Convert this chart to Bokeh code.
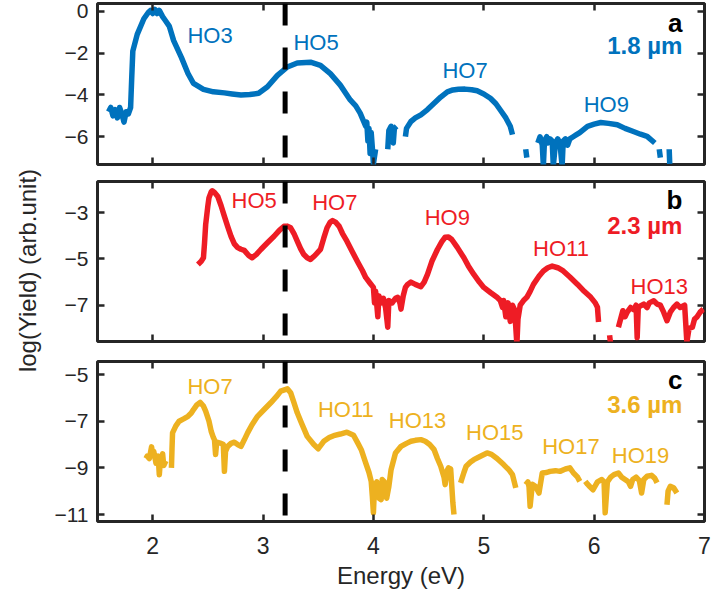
import numpy as np
from bokeh.plotting import figure
from bokeh.layouts import column, row
from bokeh.models import Range1d, LinearAxis, FixedTicker, Span, ColumnDataSource, Label
from bokeh.embed import file_html
from bokeh.resources import INLINE
from bokeh.core.properties import value

nan = float("nan")

# ---------------- data ----------------
# Panel a : 1.8 um
a_energy = [1.60, 1.62, 1.64, 1.66, 1.68, 1.70, 1.72, 1.74, 1.76, 1.78, 1.80, 1.81, 1.82, 1.86, 1.92,
            1.96, 1.98, 2.00, 2.02, 2.04, 2.06, 2.09, 2.11, 2.15, 2.19, 2.26, 2.32, 2.37, 2.46, 2.55,
            2.65, 2.72, 2.80, 2.88, 2.96, 3.04, 3.13, 3.22, 3.31, 3.43, 3.52, 3.61, 3.70, 3.79, 3.84,
            3.88, 3.93, 3.94, 3.95, 3.96, 3.97, 3.98, 3.99, 4.00, 4.02, nan,
            4.13, 4.14, 4.16, 4.18, 4.19, 4.21, nan,
            4.29, 4.30, 4.34, 4.38, 4.43, 4.49, 4.55, 4.61, 4.67, 4.72, 4.77, 4.83, 4.89, 4.94, 5.00,
            5.06, 5.11, 5.15, 5.20, 5.24, 5.26, nan,
            5.38, 5.39, nan,
            5.49, 5.51, 5.53, 5.54, 5.55, 5.57, 5.58, 5.60, 5.62, 5.63, 5.65, 5.67, 5.69, 5.71, 5.72,
            5.74, 5.76, 5.78, 5.81, 5.84, 5.87, 5.94, 6.00, 6.06, 6.13, 6.21, 6.28, 6.35, 6.42, 6.48,
            6.55, nan,
            6.59, 6.60, nan,
            6.68, 6.685]
a_yield = [-4.8, -4.6, -5.0, -4.7, -5.1, -4.6, -4.9, -5.3, -4.8, -4.9, -4.6, -3.2, -1.9, -1.1, -0.35,
           -0.05, 0.05, -0.1, 0.1, -0.1, 0.05, -0.25, -0.4, -0.7, -1.4, -2.2, -2.97, -3.45, -3.73, -3.85,
           -3.9, -3.95, -4.0, -3.98, -3.92, -3.61, -3.06, -2.66, -2.47, -2.43, -2.58, -2.98, -3.53, -4.24, -4.52,
           -4.87, -5.5, -5.3, -6.2, -5.6, -6.8, -5.8, -6.5, -7.3, -6.6, nan,
           -6.6, -5.7, -5.5, -6.3, -5.6, -5.5, nan,
           -6.0, -5.6, -5.27, -5.1, -4.95, -4.7, -4.4, -4.1, -3.85, -3.76, -3.73, -3.72, -3.75, -3.8, -3.95,
           -4.16, -4.42, -4.72, -5.1, -5.5, -5.9, nan,
           -6.6, -7.0, nan,
           -6.3, -6.0, -6.4, -7.4, -6.2, -6.0, -6.3, -6.1, -6.2, -7.4, -6.3, -6.1, -6.3, -7.4, -6.2,
           -6.1, -6.4, -6.1, -6.0, -5.9, -5.8, -5.5, -5.4, -5.32, -5.36, -5.43, -5.6, -5.74, -5.88, -5.98,
           -6.3, nan,
           -6.6, -7.0, nan,
           -6.6, -7.3]

# Panel b : 2.3 um
b_energy = [2.41, 2.44, 2.46, 2.47, 2.48, 2.50, 2.51, 2.53, 2.54, 2.56, 2.59, 2.62, 2.65, 2.68, 2.71,
            2.74, 2.77, 2.80, 2.83, 2.87, 2.90, 2.94, 2.98, 3.04, 3.10, 3.15, 3.19, 3.22, 3.25, 3.28,
            3.31, 3.34, 3.37, 3.40, 3.43, 3.47, 3.52, 3.55, 3.58, 3.61, 3.63, 3.66, 3.69, 3.72, 3.76,
            3.81, 3.86, 3.90, 3.93, 3.97, 4.00, 4.01, 4.02, 4.04, 4.05, 4.07, 4.09, 4.11, 4.13, 4.14,
            4.17, 4.20, 4.22, 4.24, 4.25, 4.27, 4.29, 4.31, 4.34, 4.38, 4.43, 4.46, 4.49, 4.53, 4.58,
            4.62, 4.65, 4.68, 4.71, 4.76, 4.82, 4.86, 4.91, 4.96, 5.00, 5.06, 5.12, 5.15, 5.17, 5.18,
            5.20, 5.22, 5.24, 5.26, 5.28, 5.30, 5.31, 5.33, 5.36, 5.39, 5.42, 5.45, 5.50, 5.54, 5.58,
            5.62, 5.67, 5.72, 5.78, 5.85, 5.91, 5.97, 6.01, 6.03, 6.04, nan,
            6.14, 6.15, nan,
            6.22, 6.24, 6.26, 6.28, 6.30, 6.33, 6.36, 6.38, 6.39, 6.40, 6.42, 6.45, 6.48, 6.50, 6.54,
            6.57, 6.60, 6.63, 6.66, 6.69, 6.72, 6.75, 6.78, 6.82, 6.84, 6.86, 6.89, 6.91, 6.93, 6.96,
            6.99]
b_yield = [-5.24, -5.1, -4.95, -4.3, -3.52, -2.7, -2.36, -2.1, -2.05, -2.12, -2.3, -2.7, -3.16, -3.6, -4.02,
           -4.35, -4.51, -4.58, -4.63, -4.85, -4.95, -4.8, -4.59, -4.3, -4.02, -3.75, -3.59, -3.58, -3.65, -3.9,
           -4.23, -4.55, -4.81, -4.95, -5.02, -4.85, -4.59, -4.1, -3.65, -3.4, -3.34, -3.42, -3.59, -3.9, -4.23,
           -4.7, -5.15, -5.5, -5.8, -6.05, -6.23, -6.9, -6.4, -7.5, -6.6, -6.9, -6.7, -7.1, -7.95, -6.8,
           -6.9, -6.7, -6.66, -6.9, -7.17, -6.6, -6.23, -6.1, -6.0, -6.1, -6.2, -6.0, -5.67, -5.1, -4.59,
           -4.25, -4.06, -4.05, -4.16, -4.5, -4.95, -5.3, -5.67, -6.0, -6.23, -6.45, -6.66, -6.8, -7.1, -6.8,
           -7.5, -6.9, -7.7, -7.0, -7.2, -8.7, -7.6, -7.0, -6.8, -6.66, -6.4, -6.1, -5.75, -5.52, -5.38,
           -5.31, -5.38, -5.52, -5.78, -6.1, -6.4, -6.66, -6.9, -7.09, -7.73, nan,
           -8.3, -8.7, nan,
           -7.95, -7.6, -7.24, -7.5, -7.3, -7.1, -7.2, -7.0, -8.4, -7.1, -7.03, -6.95, -7.1, -6.9, -6.81,
           -6.95, -7.0, -7.3, -7.67, -7.3, -7.1, -6.95, -7.1, -7.0, -8.6, -8.0, -7.95, -7.6, -7.52, -7.3,
           -7.17]

# Panel c : 3.6 um
c_energy = [1.94, 1.95, 1.97, 1.99, 2.00, 2.01, 2.03, 2.05, 2.06, 2.07, 2.09, 2.10, 2.12, nan,
            2.17, 2.175, 2.18, 2.21, 2.24, 2.28, 2.32, 2.35, 2.37, 2.40, 2.43, 2.46, 2.48, 2.51, 2.53,
            2.55, 2.56, 2.57, 2.58, 2.62, 2.64, 2.65, 2.66, 2.68, 2.71, 2.74, 2.77, 2.80, 2.83, 2.86,
            2.90, 2.95, 3.01, 3.07, 3.12, 3.16, 3.22, 3.25, 3.28, 3.31, 3.35, 3.40, 3.46, 3.50, 3.55,
            3.60, 3.64, 3.70, 3.76, 3.82, 3.86, 3.89, 3.93, 3.96, 3.98, 3.99, 4.00, 4.01, 4.03, 4.05,
            4.07, 4.08, 4.10, 4.12, 4.14, 4.16, 4.20, 4.25, 4.30, 4.34, 4.38, 4.43, 4.47, 4.51, 4.55,
            4.58, 4.61, 4.64, 4.65, 4.67, 4.68, 4.70, 4.72, 4.73, nan,
            4.79, 4.82, 4.84, 4.88, 4.91, 4.97, 5.03, 5.07, 5.12, 5.18, 5.23, 5.26, 5.29, nan,
            5.38, 5.40, 5.41, 5.42, 5.44, 5.47, 5.50, 5.53, 5.57, 5.60, 5.65, 5.69, 5.74, 5.78, 5.81,
            5.85, 5.87, nan,
            5.92, 5.94, 5.96, 5.99, 6.03, 6.07, 6.09, 6.10, 6.12, 6.15, 6.18, 6.22, 6.25, 6.28, 6.31,
            6.33, 6.35, 6.38, 6.41, 6.43, 6.45, 6.48, 6.52, 6.55, 6.57, nan,
            6.66, 6.67, 6.69, 6.72, 6.75]
c_yield = [-8.6, -8.5, -8.6, -8.1, -8.4, -8.3, -8.8, -8.5, -9.3, -8.7, -8.4, -8.9, -8.7, nan,
           -9.0, -8.2, -7.5, -7.2, -7.0, -6.9, -6.79, -6.65, -6.5, -6.3, -6.19, -6.35, -6.57, -7.0, -7.43,
           -7.7, -7.8, -8.43, -7.9, -7.95, -8.0, -9.15, -8.3, -8.08, -7.95, -7.9, -8.0, -8.08, -7.8, -7.5,
           -7.15, -6.79, -6.5, -6.21, -5.95, -5.71, -5.61, -5.78, -6.2, -6.64, -7.1, -7.65, -8.0, -8.18, -7.86,
           -7.7, -7.62, -7.55, -7.47, -7.6, -7.95, -8.22, -8.79, -9.2, -9.58, -10.2, -10.93, -9.8, -9.6, -10.3,
           -10.36, -9.5, -9.6, -10.3, -9.8, -9.08, -8.36, -8.08, -7.95, -7.86, -7.82, -7.79, -7.86, -8.0, -8.22,
           -8.6, -8.93, -9.4, -9.72, -9.1, -9.0, -9.05, -10.5, -11.0, nan,
           -9.64, -9.2, -8.93, -8.75, -8.65, -8.5, -8.36, -8.42, -8.6, -8.86, -9.1, -9.29, -9.86, nan,
           -9.72, -9.6, -9.8, -10.65, -9.7, -9.8, -10.08, -9.22, -9.2, -9.15, -9.12, -9.15, -9.05, -9.0, -9.2,
           -9.4, -9.58, nan,
           -9.58, -9.7, -9.8, -9.94, -9.6, -9.5, -9.6, -10.93, -9.6, -9.4, -9.29, -9.22, -9.4, -9.5, -9.6,
           -9.79, -9.5, -9.4, -9.55, -10.08, -9.5, -9.36, -9.32, -9.45, -9.64, nan,
           -10.58, -10.0, -9.79, -9.85, -10.08]

# harmonic-order labels
a_ho_text = ["HO3", "HO5", "HO7", "HO9"]
a_ho_x = [2.52, 3.48, 4.83, 6.11]
a_ho_y = [-1.16, -1.5, -2.82, -4.48]

b_ho_text = ["HO5", "HO7", "HO9", "HO11", "HO13"]
b_ho_x = [2.92, 3.65, 4.67, 5.70, 6.59]
b_ho_y = [-2.48, -2.56, -3.2, -4.55, -6.18]

c_ho_text = ["HO7", "HO11", "HO13", "HO15", "HO17", "HO19"]
c_ho_x = [2.52, 3.75, 4.40, 5.10, 5.79, 6.42]
c_ho_y = [-5.5, -6.5, -6.96, -7.49, -8.07, -8.48]

panel_letters = ["a", "b", "c"]
wavelengths = ["1.8 µm", "2.3 µm", "3.6 µm"]
letter_y = [-0.55, -2.44, -5.24]
wave_y = [-1.64, -3.56, -6.29]
corner_x = 6.80

y_ranges = [(-7.33, 0.38), (-8.57, -1.65), (-11.3, -4.44)]
y_ticks = [[0, -2, -4, -6], [-3, -5, -7], [-5, -7, -9, -11]]
x_ticks = [2, 3, 4, 5, 6, 7]
marker_energy = 3.2
y_title = "log(Yield) (arb.unit)"
x_title = "Energy (eV)"

colors = ["#0072BD", "#EE1C25", "#EDB120"]
FONT = "Liberation Sans"
DARK = "#262626"

LABEL_W = 45
FRAME_W = 607


def style_axis(ax, labels=True):
    ax.major_tick_in = 7
    ax.major_tick_out = 0
    ax.minor_tick_in = 0
    ax.minor_tick_out = 0
    ax.major_tick_line_width = 2.5
    ax.major_tick_line_color = DARK
    ax.axis_line_color = None
    ax.major_label_text_font = FONT
    if labels:
        ax.major_label_text_color = DARK
    else:
        ax.major_label_text_color = None
        ax.major_label_text_font_size = "0px"
        ax.major_label_standoff = 0


def make_panel(i, energy, yld, ho_text, ho_x, ho_y, top, frame_h, bottom, bottom_labels=False):
    p = figure(frame_width=FRAME_W, frame_height=frame_h,
               x_range=Range1d(1.5, 7), y_range=Range1d(*y_ranges[i]),
               x_axis_location=None, y_axis_location=None,
               output_backend="svg", toolbar_location=None,
               min_border_left=97 - LABEL_W, min_border_right=7,
               min_border_top=top, min_border_bottom=bottom)
    p.grid.visible = False
    p.outline_line_color = DARK
    p.outline_line_width = 3
    p.background_fill_color = "white"
    p.border_fill_color = "white"

    left = LinearAxis(ticker=FixedTicker(ticks=y_ticks[i]))
    style_axis(left)
    left.major_label_text_font_size = "21px"
    left.major_label_standoff = 9
    p.add_layout(left, "left")

    right = LinearAxis(ticker=FixedTicker(ticks=y_ticks[i]))
    style_axis(right, labels=False)
    p.add_layout(right, "right")

    top_ax = LinearAxis(ticker=FixedTicker(ticks=x_ticks))
    style_axis(top_ax, labels=False)
    p.add_layout(top_ax, "above")

    bot = LinearAxis(ticker=FixedTicker(ticks=x_ticks))
    style_axis(bot, labels=bottom_labels)
    if bottom_labels:
        bot.major_label_text_font_size = "23px"
        bot.major_label_standoff = 15
        bot.axis_label = x_title
        bot.axis_label_text_font = FONT
        bot.axis_label_text_font_size = "24px"
        bot.axis_label_text_font_style = "normal"
        bot.axis_label_text_color = DARK
        bot.axis_label_standoff = 5
    p.add_layout(bot, "below")

    src = ColumnDataSource(dict(x=energy, y=yld))
    p.line("x", "y", source=src, line_color=colors[i], line_width=5.5,
           line_join="round", line_cap="butt")

    lab = ColumnDataSource(dict(x=ho_x, y=ho_y, t=ho_text))
    p.text("x", "y", text="t", source=lab, text_color=colors[i],
           text_font=value(FONT), text_font_size=value("22px"),
           text_align="center", text_baseline="middle")

    p.text(x=[corner_x], y=[letter_y[i]], text=[panel_letters[i]], text_color="black",
           text_font=value(FONT), text_font_size=value("26px"), text_font_style="bold",
           text_align="right", text_baseline="middle")
    p.text(x=[corner_x], y=[wave_y[i]], text=[wavelengths[i]], text_color=colors[i],
           text_font=value(FONT), text_font_size=value("24px"), text_font_style="bold",
           text_align="right", text_baseline="middle")

    span = Span(location=marker_energy, dimension="height", line_color="black",
                line_width=5, line_dash="22 22")
    p.add_layout(span)
    return p


pa = make_panel(0, a_energy, a_yield, a_ho_text, a_ho_x, a_ho_y, top=3, frame_h=161, bottom=2)
pb = make_panel(1, b_energy, b_yield, b_ho_text, b_ho_x, b_ho_y, top=15, frame_h=160, bottom=2)
pc = make_panel(2, c_energy, c_yield, c_ho_text, c_ho_x, c_ho_y, top=18, frame_h=160, bottom=2,
                bottom_labels=True)

TOTAL_H = 598
# narrow strip holding the shared (rotated) y-axis title
ylab = figure(frame_width=LABEL_W, frame_height=TOTAL_H, x_range=Range1d(0, LABEL_W),
              y_range=Range1d(0, TOTAL_H), x_axis_location=None, y_axis_location=None,
              output_backend="svg", toolbar_location=None,
              min_border=0, min_border_left=0, min_border_right=0,
              min_border_top=0, min_border_bottom=0)
ylab.grid.visible = False
ylab.outline_line_color = None
ylab.add_layout(Label(x=27, y=TOTAL_H - 270, text=y_title, angle=90, angle_units="deg",
                      text_font=FONT, text_font_size="24px", text_color=DARK,
                      text_align="center", text_baseline="middle"))

layout = row(ylab, column(pa, pb, pc, spacing=0), spacing=0)
open("out.html", "w").write(file_html(layout, INLINE))
